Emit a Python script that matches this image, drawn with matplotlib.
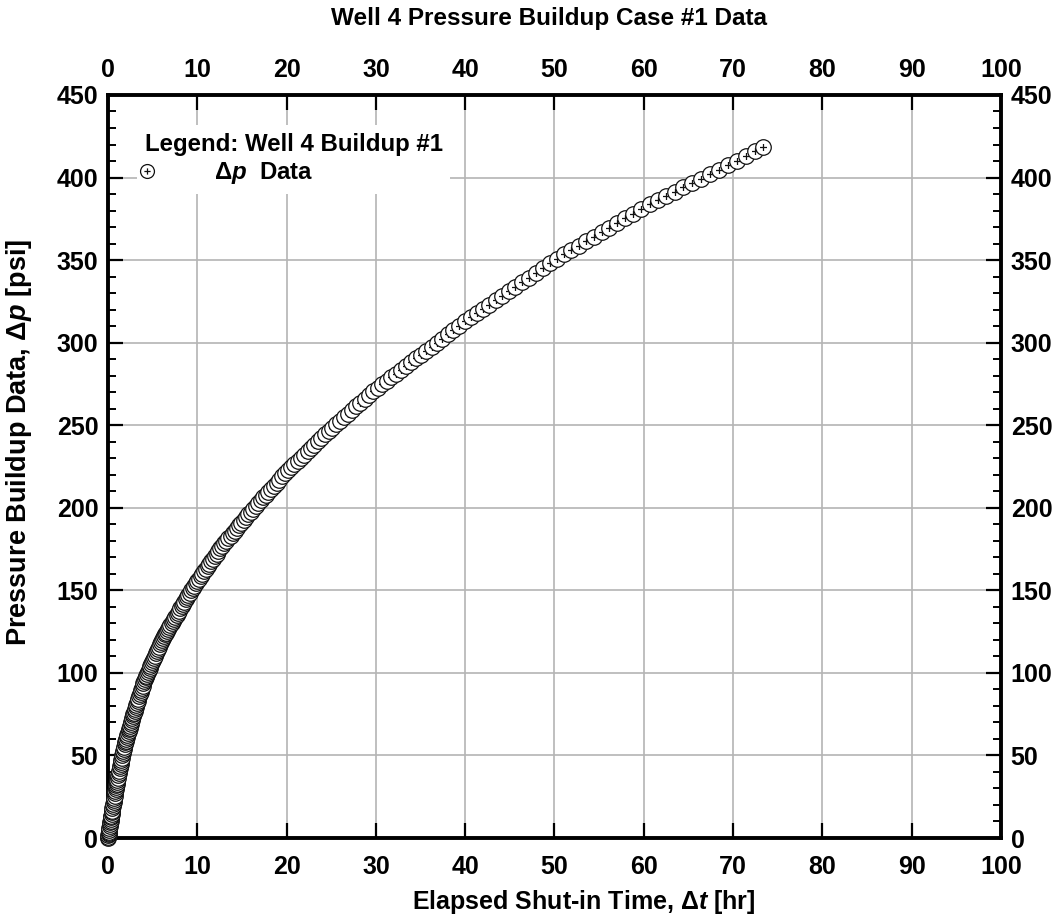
import numpy as np
import matplotlib
matplotlib.use('Agg')
import matplotlib.pyplot as plt
import matplotlib.transforms as mtransforms
from matplotlib.path import Path
from matplotlib.lines import Line2D
from matplotlib.ticker import MultipleLocator

# shut-in time [hr] and pressure change [psi]
t_hr = [
    0.00, 0.02, 0.04, 0.06, 0.08, 0.10, 0.13, 0.16, 0.19, 0.22,
    0.25, 0.28, 0.31, 0.34, 0.37, 0.40, 0.43, 0.46, 0.50, 0.54,
    0.58, 0.62, 0.66, 0.70, 0.74, 0.78, 0.82, 0.86, 0.90, 0.94,
    0.98, 1.02, 1.06, 1.10, 1.15, 1.20, 1.25, 1.30, 1.35, 1.40,
    1.45, 1.50, 1.55, 1.60, 1.66, 1.72, 1.78, 1.84, 1.90, 1.95,
    2.00,
    2.06, 2.12, 2.18, 2.24, 2.30, 2.36, 2.42, 2.48, 2.54, 2.60,
    2.66, 2.72, 2.78, 2.84, 2.90,
    2.97, 3.04, 3.11, 3.18, 3.25, 3.32, 3.40, 3.48, 3.56, 3.64,
    3.72, 3.80, 3.88, 3.96, 4.04, 4.12,
    4.20, 4.29, 4.38, 4.47, 4.56, 4.65, 4.75, 4.85, 4.95, 5.05,
    5.15, 5.25, 5.35, 5.45, 5.56, 5.67, 5.78, 5.89, 6.00,
    6.12, 6.24, 6.36, 6.48, 6.60, 6.73, 6.86, 6.99, 7.12, 7.25,
    7.39, 7.53, 7.67, 7.81, 7.95, 8.10, 8.25, 8.40, 8.55, 8.70,
    8.85, 9.00, 9.15, 9.30,
    9.48, 9.66, 9.84, 10.02, 10.20, 10.39, 10.58, 10.77, 10.96, 11.16,
    11.36, 11.56, 11.76, 11.96, 12.16, 12.36, 12.56,
    12.79, 13.02, 13.25, 13.48, 13.72, 13.96, 14.20, 14.44, 14.69, 14.94,
    15.19, 15.44, 15.70, 15.96,
    16.24, 16.52, 16.80, 17.09, 17.38, 17.67, 17.97, 18.27, 18.57, 18.88,
    19.19, 19.50, 19.81,
    20.15, 20.50, 20.86, 21.22, 21.59, 21.96, 22.34, 22.72, 23.11, 23.50,
    23.90, 24.30, 24.71,
    25.13, 25.56, 25.99, 26.43, 26.88, 27.33, 27.79, 28.26, 28.73, 29.21,
    29.70,
    30.20, 30.71, 31.22, 31.74, 32.27, 32.81, 33.36, 33.92, 34.49, 35.06,
    35.64, 36.23, 36.83, 37.44, 38.06, 38.69, 39.33, 39.98,
    40.65, 41.33, 42.02, 42.72, 43.43, 44.15, 44.88, 45.62, 46.37, 47.13,
    47.90, 48.68, 49.47,
    50.27, 51.08, 51.90, 52.73, 53.57, 54.42, 55.28, 56.15, 57.03, 57.92,
    58.82, 59.73,
    60.65, 61.58, 62.52, 63.47, 64.43, 65.40, 66.38, 67.37, 68.37, 69.38,
    70.40, 71.43, 72.47, 73.40,
]
dp_psi = [
    0.0, 0.8, 1.6, 2.4, 3.1, 3.9, 5.0, 6.2, 7.3, 8.5,
    9.5, 10.5, 11.6, 12.6, 13.6, 14.6, 15.6, 16.6, 18.0, 19.3,
    20.6, 21.8, 23.1, 24.4, 25.7, 27.0, 28.2, 29.5, 30.7, 31.9,
    33.0, 34.2, 35.4, 36.6, 38.0, 39.5, 40.8, 42.1, 43.4, 44.8,
    46.1, 47.4, 48.7, 50.0, 51.4, 52.7, 54.0, 55.4, 56.8, 57.9,
    59.0,
    60.1, 61.3, 62.4, 63.5, 64.7, 65.8, 66.9, 68.1, 69.2, 70.3,
    71.5, 72.6, 73.7, 74.9, 76.0,
    77.2, 78.3, 79.5, 80.7, 81.8, 83.0, 84.4, 85.7, 87.0, 88.4,
    89.7, 91.0, 92.3, 93.7, 95.0, 96.3,
    97.3, 98.4, 99.5, 100.7, 101.8, 102.9, 104.2, 105.5, 106.7, 108.0,
    109.2, 110.5, 111.8, 113.0, 114.4, 115.8, 117.2, 118.6, 120.0,
    121.1, 122.2, 123.3, 124.4, 125.5, 126.6, 127.8, 129.0, 130.2, 131.4,
    132.6, 133.9, 135.2, 136.5, 137.7, 139.1, 140.5, 141.8, 143.2, 144.5,
    145.9, 147.3, 148.6, 150.0,
    151.4, 152.8, 154.2, 155.6, 157.0, 158.5, 160.0, 161.5, 163.0, 164.5,
    166.1, 167.7, 169.2, 170.8, 172.3, 173.9, 175.4,
    176.9, 178.4, 179.9, 181.4, 183.0, 184.6, 186.2, 187.8, 189.4, 191.0,
    192.7, 194.3, 196.0, 197.7,
    199.4, 201.1, 202.8, 204.5, 206.3, 208.0, 209.8, 211.6, 213.4, 215.3,
    217.1, 219.0, 220.9,
    222.8, 224.6, 226.5, 228.3, 230.3, 232.2, 234.2, 236.1, 238.2, 240.2,
    242.3, 244.4, 246.5,
    248.6, 250.7, 252.8, 254.9, 257.0, 259.2, 261.4, 263.6, 265.9, 268.2,
    270.6,
    272.8, 274.9, 277.0, 279.1, 281.3, 283.5, 285.8, 288.1, 290.4, 292.7,
    295.1, 297.5, 300.0, 302.5, 305.0, 307.6, 310.3, 312.9,
    315.4, 317.9, 320.5, 323.1, 325.7, 328.4, 331.1, 333.8, 336.6, 339.4,
    342.2, 345.1, 348.0,
    350.9, 353.5, 356.1, 358.7, 361.4, 364.1, 366.9, 369.7, 372.5, 375.3,
    378.2, 381.1,
    383.8, 386.3, 388.8, 391.4, 394.0, 396.6, 399.2, 401.9, 404.6, 407.3,
    410.1, 413.0, 415.9, 418.5,
]
assert len(t_hr) == len(dp_psi)

x_ticks = list(range(0, 101, 10))
y_ticks = list(range(0, 451, 50))

plt.rcParams['font.family'] = 'Liberation Sans'
plt.rcParams['font.weight'] = 'bold'
plt.rcParams['axes.labelweight'] = 'bold'
plt.rcParams['mathtext.fontset'] = 'custom'
plt.rcParams['mathtext.rm'] = 'Liberation Sans:bold'
plt.rcParams['mathtext.bf'] = 'Liberation Sans:bold'
plt.rcParams['mathtext.it'] = 'Liberation Sans:italic:bold'

# circle with a plus inside, drawn as one marker so overlaps stack in order
circ = Path.unit_circle()
arm = 0.45
verts = np.concatenate([circ.vertices, [[-arm, 0], [arm, 0], [0, -arm], [0, arm]]])
codes = np.concatenate([circ.codes, [Path.MOVETO, Path.LINETO, Path.MOVETO, Path.LINETO]])
circ_plus = Path(verts, codes)

fig = plt.figure(figsize=(10.59, 9.22), dpi=100)
ax = fig.add_axes([0.102, 0.0911, 0.8432, 0.8059])

ax.scatter(t_hr, dp_psi, s=125, marker=circ_plus, facecolors='white',
           edgecolors='#111111', linewidths=0.9, zorder=3, clip_on=False)

ax.set_xlim(0, 100)
ax.set_ylim(0, 450)
ax.set_xticks(x_ticks)
ax.set_yticks(y_ticks)
ax.yaxis.set_minor_locator(MultipleLocator(10))
ax.grid(True, which='major', color='#b4b4b4', linewidth=1.2, zorder=0)
ax.set_axisbelow(True)

for sp in ax.spines.values():
    sp.set_linewidth(2.8)
ax.tick_params(axis='both', which='major', direction='in', length=11, width=1.6,
               labelsize=18, top=True, right=True, labeltop=True, labelright=True)
ax.tick_params(axis='y', which='minor', direction='in', length=5.5, width=1.4,
               left=True, right=True)
ax.tick_params(axis='x', which='major', pad=9.5)
ax.tick_params(axis='y', which='major', pad=7)

# bottom tick labels sit a little lower than the top ones
shift_down = mtransforms.ScaledTranslation(0, -4 / 100, fig.dpi_scale_trans)
for tk in ax.xaxis.get_major_ticks():
    tk.label1.set_transform(tk.label1.get_transform() + shift_down)

ax.set_xlabel(r'Elapsed Shut-in Time, $\mathit{\Delta t}$ [hr]', fontsize=18, labelpad=9)
ax.set_ylabel(r'Pressure Buildup Data, $\mathit{\Delta p}$ [psi]', fontsize=19.5, labelpad=12)
ax.xaxis.set_label_coords(0.533, -0.067)
ax.yaxis.set_label_coords(-0.083, 0.533)
fig.text(0.518, 0.980, 'Well 4 Pressure Buildup Case #1 Data', ha='center', va='center',
         fontsize=17.5, fontweight='bold')

handle = Line2D([], [], marker=circ_plus, linestyle='none', markersize=10,
                markerfacecolor='white', markeredgecolor='#111111', markeredgewidth=0.9)
leg = ax.legend([handle], [r'$\mathit{\Delta p}$  Data'], title='Legend: Well 4 Buildup #1',
                loc='upper left', bbox_to_anchor=(0.033, 0.959), borderaxespad=0,
                fontsize=17.3, title_fontproperties={'size': 17.3, 'weight': 'bold'},
                alignment='left', handlelength=0.2, handletextpad=2.7,
                frameon=True, fancybox=False, framealpha=1, edgecolor='none',
                facecolor='white', borderpad=0.3, labelspacing=0.2)
leg.set_zorder(5)

plt.savefig('out.png', dpi=100)
plt.close()
